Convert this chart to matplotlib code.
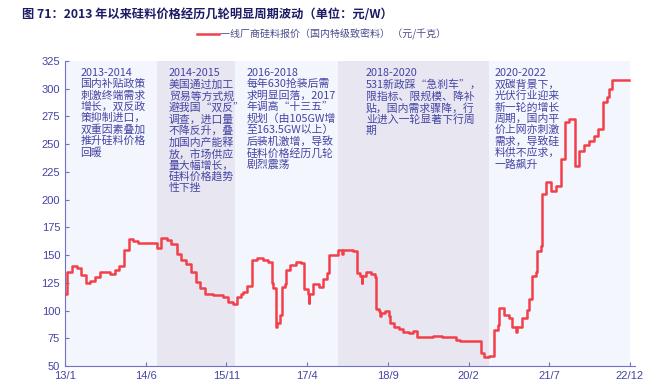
import matplotlib
matplotlib.use("Agg")
import matplotlib.pyplot as plt

plt.rcParams['font.family'] = ['Noto Sans CJK SC', 'DejaVu Sans']

# months since 2013/1, price (元/千克), step-post
months = [0.0, 0.35, 1.4, 2.6, 3.4, 4.4, 5.3, 6.3, 7.4, 9.5, 10.5, 11.4, 12.4, 13.5, 14.4, 15.4,
          19.3, 20.3, 21.4, 22.3, 23.5, 24.5, 25.4, 26.5, 27.5, 28.4, 29.4, 31.2, 33.3, 34.3, 35.4,
          36.3, 37.1, 37.5, 38.4, 39.4, 40.4, 41.7, 42.7, 43.5, 43.9, 44.4, 44.6, 45.2, 45.6, 46.4,
          46.6, 47.4, 48.6, 49.8, 50.3, 51.1, 51.3, 51.45, 52.3, 53.5, 54.4, 55.1, 55.6, 57.5, 58.4,
          58.6, 60.6, 61.4, 62.2, 62.5, 62.6, 63.4, 64.5, 65.2, 65.5, 66.2, 66.4, 66.6, 67.3, 68.2,
          68.5, 69.4, 70.4, 71.1, 72.5, 73.4, 74.2, 75.2, 77.6, 79.4, 82.3, 83.2, 87.6, 88.3, 89.3,
          90.4, 91.1, 91.4, 92.5, 93.5, 94.2, 95.0, 95.3, 96.3, 97.4, 97.8, 98.3, 99.2, 99.5, 100.2,
          100.4, 101.3, 102.3, 103.4, 104.4, 105.3, 106.2, 107.4, 108.3, 109.3, 110.4, 111.4, 112.3,
          113.3, 114.2, 114.6, 115.3, 118.8]
prices = [115, 134.5, 140, 138, 132, 125, 127, 130, 134.5, 133, 137, 140, 155, 164.5, 163, 160.5,
          156, 165.5, 163.5, 160, 151, 146, 142, 134.5, 126, 120, 115, 114, 112, 108, 106,
          112, 115, 117, 122.5, 146, 147, 146, 143.5, 125, 120, 85, 89, 96, 121, 124,
          137, 141.5, 144, 143, 119.5, 114.5, 107, 114.5, 124, 121, 128.5, 134, 150.5, 155, 151,
          155, 154, 134, 131, 125, 131, 134.5, 133, 130, 101.5, 100, 95, 98, 100, 95,
          89, 85.5, 83.5, 81, 79.5, 81.5, 76.5, 76, 77, 76.3, 73.5, 72.6, 61.5, 58.5, 59,
          82.5, 87, 102.3, 96, 93, 85.5, 81, 85.5, 93, 100.7, 110, 131, 135, 153.5, 158,
          205, 216, 208, 212.5, 236.6, 270, 273, 230.6, 244, 249, 253, 257.7, 263.8,
          288, 292.4, 300, 307.5, 307.5]

tick_pos = [0, 17, 34, 51, 68, 85, 102, 119]
tick_labels = ["13/1", "14/6", "15/11", "17/4", "18/9", "20/2", "21/7", "22/12"]

# period bands (months)
bands = [0, 19.3, 35.9, 57.6, 89.3, 119]
band_notes = [
    "2013-2014\n国内补贴政策\n刺激终端需求\n增长，双反政\n策抑制进口，\n双重因素叠加\n推升硅料价格\n回暖",
    "2014-2015\n美国通过加工\n贸易等方式规\n避我国“双反”\n调查，进口量\n不降反升，叠\n加国内产能释\n放，市场供应\n量大幅增长，\n硅料价格趋势\n性下挫",
    "2016-2018\n每年630抢装后需\n求明显回落，2017\n年调高“十三五”\n规划（由105GW增\n至163.5GW以上）\n后装机激增，导致\n硅料价格经历几轮\n剧烈震荡",
    "2018-2020\n531新政踩“急刹车”，\n限指标、限规模、降补\n贴，国内需求骤降，行\n业进入一轮显著下行周\n期",
    "2020-2022\n双碳背景下，\n光伏行业迎来\n新一轮的增长\n周期，国内平\n价上网亦刺激\n需求，导致硅\n料供不应求，\n一路飙升",
]
note_x = [3.2, 21.9, 38.3, 63.4, 90.5]

axis_col = "#7272c4"
text_col = "#4444a4"

fig = plt.figure(figsize=(6.62, 3.89), dpi=100)
ax = fig.add_axes([0.0982, 0.0591, 0.8606, 0.784])

for i in range(len(bands) - 1):
    ax.axvspan(bands[i], bands[i + 1], color="#f3f6fc" if i % 2 == 0 else "#e8e6f1", lw=0, zorder=0)

ax.step(months, prices, where="post", color="#f2404a", lw=1.8, zorder=3,
        label="一线厂商硅料报价（国内特级致密料） （元/千克）")

for x, note in zip(note_x, band_notes):
    ax.text(x, 318.5, note, fontsize=7.8, color=text_col, va="top", ha="left",
            linespacing=1.12, fontweight="light", zorder=4)

ax.set_xlim(0, 120)
ax.set_ylim(50, 325)
ax.set_yticks(range(50, 326, 25))
ax.set_xticks(tick_pos)
ax.set_xticklabels(tick_labels)
for s in ["top", "right"]:
    ax.spines[s].set_visible(False)
for s in ["left", "bottom"]:
    ax.spines[s].set_color(axis_col)
ax.tick_params(direction="in", length=3, color=axis_col, labelcolor=text_col, labelsize=8)
for lab in ax.get_xticklabels() + ax.get_yticklabels():
    lab.set_family(["Liberation Sans", "DejaVu Sans"])

fig.legend(loc="center", bbox_to_anchor=(0.485, 0.912), frameon=False, fontsize=7.2,
           handlelength=2.2, handletextpad=0.1, labelcolor="#4a4a8c")

fig.text(0.033, 0.962, "图 71：2013 年以来硅料价格经历几轮明显周期波动（单位：元/W）",
         fontsize=8.8, fontweight="bold", color="#1c1c66", va="center", ha="left")

fig.savefig("out.png", dpi=100)
